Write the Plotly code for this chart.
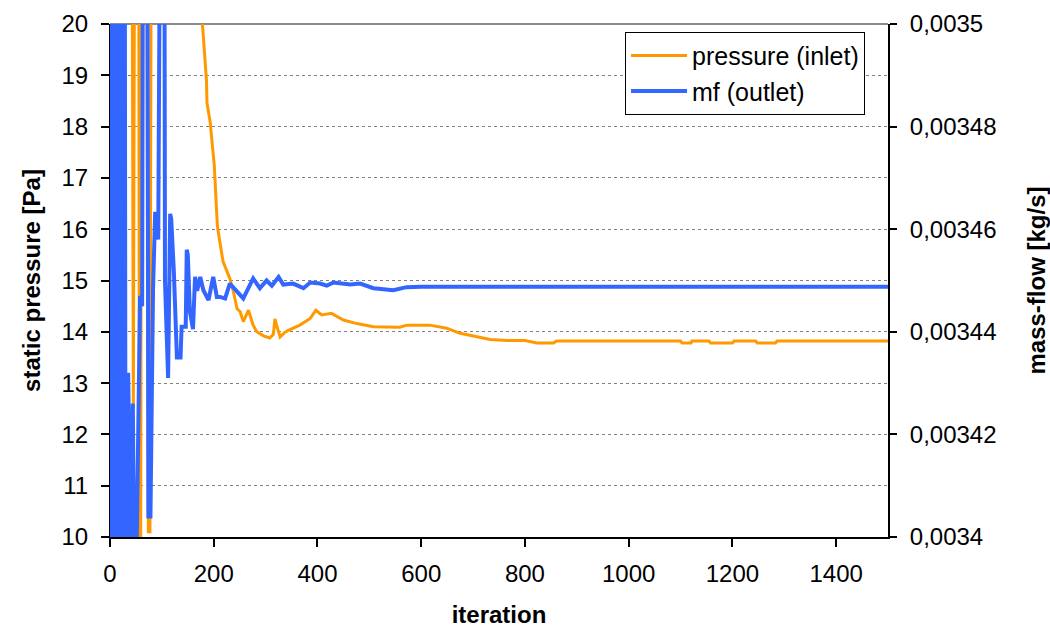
import plotly.graph_objects as go

# pressure (inlet) [Pa] vs iteration
p_iter = [0, 2, 5, 15, 18, 21, 42, 45, 48, 55, 58, 61, 70, 74, 77, 80, 150, 176,
          180, 186, 187, 193, 201, 204, 207, 211, 218, 231, 238, 245, 251, 257, 267,
          276, 283, 296, 308, 315, 318, 322, 328, 336, 344, 366, 386, 397, 408, 427,
          450, 476, 508, 559, 572, 617, 649, 675, 707, 733, 765, 800, 823, 855, 861,
          1100, 1103, 1120, 1122, 1155, 1158, 1200, 1203, 1245, 1248, 1283, 1286, 1500]
p_val = [22, 0, 25, 25, 0, 25, 25, 12.5, 25, 25, 0, 25, 25, 10.1, 10.1, 25, 24, 20.2,
         19.6, 18.9, 18.46, 18.1, 17.25, 16.47, 16.07, 15.8, 15.37, 15.04, 14.78, 14.45, 14.39, 14.2, 14.42,
         14.13, 14.0, 13.92, 13.88, 13.95, 14.25, 14.1, 13.9, 13.98, 14.03, 14.13, 14.26, 14.42, 14.33, 14.36,
         14.23, 14.16, 14.1, 14.09, 14.13, 14.13, 14.07, 13.97, 13.9, 13.85, 13.83, 13.83, 13.78, 13.78, 13.82,
         13.82, 13.78, 13.78, 13.82, 13.82, 13.78, 13.78, 13.82, 13.82, 13.78, 13.78, 13.82, 13.82]

# mass-flow (outlet) [kg/s] vs iteration
m_iter = [0, 3, 6, 10, 13, 17, 20, 24, 27, 31, 35, 38, 41, 44, 47, 51, 54, 58, 62, 66,
          70, 74, 78, 83, 87, 88, 93, 100, 103, 106, 112, 116, 118, 123, 129, 136, 138,
          146, 148, 150, 154, 160, 164, 168, 174, 180, 190, 199, 206, 212, 222, 231, 244,
          257, 276, 289, 302, 312, 325, 334, 353, 373, 386, 405, 418, 431, 463, 482, 508,
          546, 572, 600, 1500]
m_val = [0.00365, 0.00330, 0.00365, 0.00330, 0.00365, 0.00330, 0.00365, 0.00330, 0.00365, 0.00330,
         0.003432, 0.0034, 0.00339, 0.003426, 0.00339, 0.003395, 0.003425, 0.003447, 0.003445, 0.00365,
         0.00365, 0.003404, 0.003404, 0.0034485, 0.003463, 0.003463, 0.003458, 0.00365, 0.00365, 0.00345,
         0.003431, 0.003463, 0.003462, 0.003452, 0.003435, 0.003435, 0.003441,
         0.003441, 0.003456, 0.003455, 0.003444, 0.0034405, 0.0034507, 0.003448, 0.0034507, 0.0034481, 0.0034462,
         0.0034507, 0.0034468, 0.0034468, 0.0034465, 0.0034494, 0.003448,
         0.0034465, 0.0034504, 0.0034485, 0.00345, 0.003449, 0.0034507, 0.0034492, 0.0034494, 0.0034485,
         0.0034496, 0.0034494, 0.003449, 0.0034496, 0.0034492, 0.0034494, 0.0034485,
         0.0034481, 0.0034487, 0.0034488, 0.0034488]

x_ticks = [0, 200, 400, 600, 800, 1000, 1200, 1400]
p_ticks = [10, 11, 12, 13, 14, 15, 16, 17, 18, 19, 20]
m_ticks = [0.0034, 0.00342, 0.00344, 0.00346, 0.00348, 0.0035]
m_ticktext = ["0,0034", "0,00342", "0,00344", "0,00346", "0,00348", "0,0035"]

FONT = "Liberation Sans, Arial, sans-serif"

fig = go.Figure()
fig.add_trace(go.Scatter(x=p_iter, y=p_val, mode="lines", name="pressure (inlet)",
                         line=dict(color="#FF9900", width=3)))
fig.add_trace(go.Scatter(x=m_iter, y=m_val, mode="lines", name="mf (outlet)",
                         line=dict(color="#3366FF", width=4), yaxis="y2"))

fig.update_layout(
    width=1050, height=628,
    margin=dict(l=110, r=162, t=24, b=91),
    paper_bgcolor="white", plot_bgcolor="white",
    font=dict(family=FONT, size=24, color="black"),
    showlegend=True,
    legend=dict(x=0.662, y=0.985, xanchor="left", yanchor="top",
                bgcolor="white", bordercolor="black", borderwidth=1,
                font=dict(size=25, color="black"), tracegroupgap=0, itemwidth=56),
    xaxis=dict(range=[0, 1500], tickvals=x_ticks, ticks="outside", ticklen=8,
               tickcolor="black", tickwidth=2, showline=True, linecolor="black", linewidth=2,
               showgrid=False, zeroline=False, ticklabelstandoff=6, automargin=False,
               title=dict(text="<b>iteration</b>", font=dict(size=24), standoff=26)),
    yaxis=dict(range=[10, 20], tickvals=p_ticks, ticks="outside", ticklen=8,
               tickcolor="black", tickwidth=2, showline=True, linecolor="black", linewidth=1,
               showgrid=True, gridcolor="#7f7f7f", griddash="dot", gridwidth=1,
               zeroline=False, ticklabelstandoff=8, automargin=False,
               title=dict(text="<b>static pressure [Pa]</b>", font=dict(size=24), standoff=14)),
    yaxis2=dict(range=[0.0034, 0.0035], overlaying="y", side="right",
                tickvals=m_ticks, ticktext=m_ticktext, ticks="outside", ticklen=7,
                tickcolor="black", tickwidth=2, showline=True, linecolor="black", linewidth=2,
                showgrid=False, zeroline=False, ticklabelstandoff=8, automargin=False,
                title=dict(text="<b>mass-flow [kg/s]</b>", font=dict(size=24), standoff=34)),
    shapes=[dict(type="line", xref="paper", yref="paper", x0=0, x1=1, y0=1, y1=1,
                 line=dict(color="#8c8c8c", width=2), layer="below")],
)

fig.write_html("out.html")
